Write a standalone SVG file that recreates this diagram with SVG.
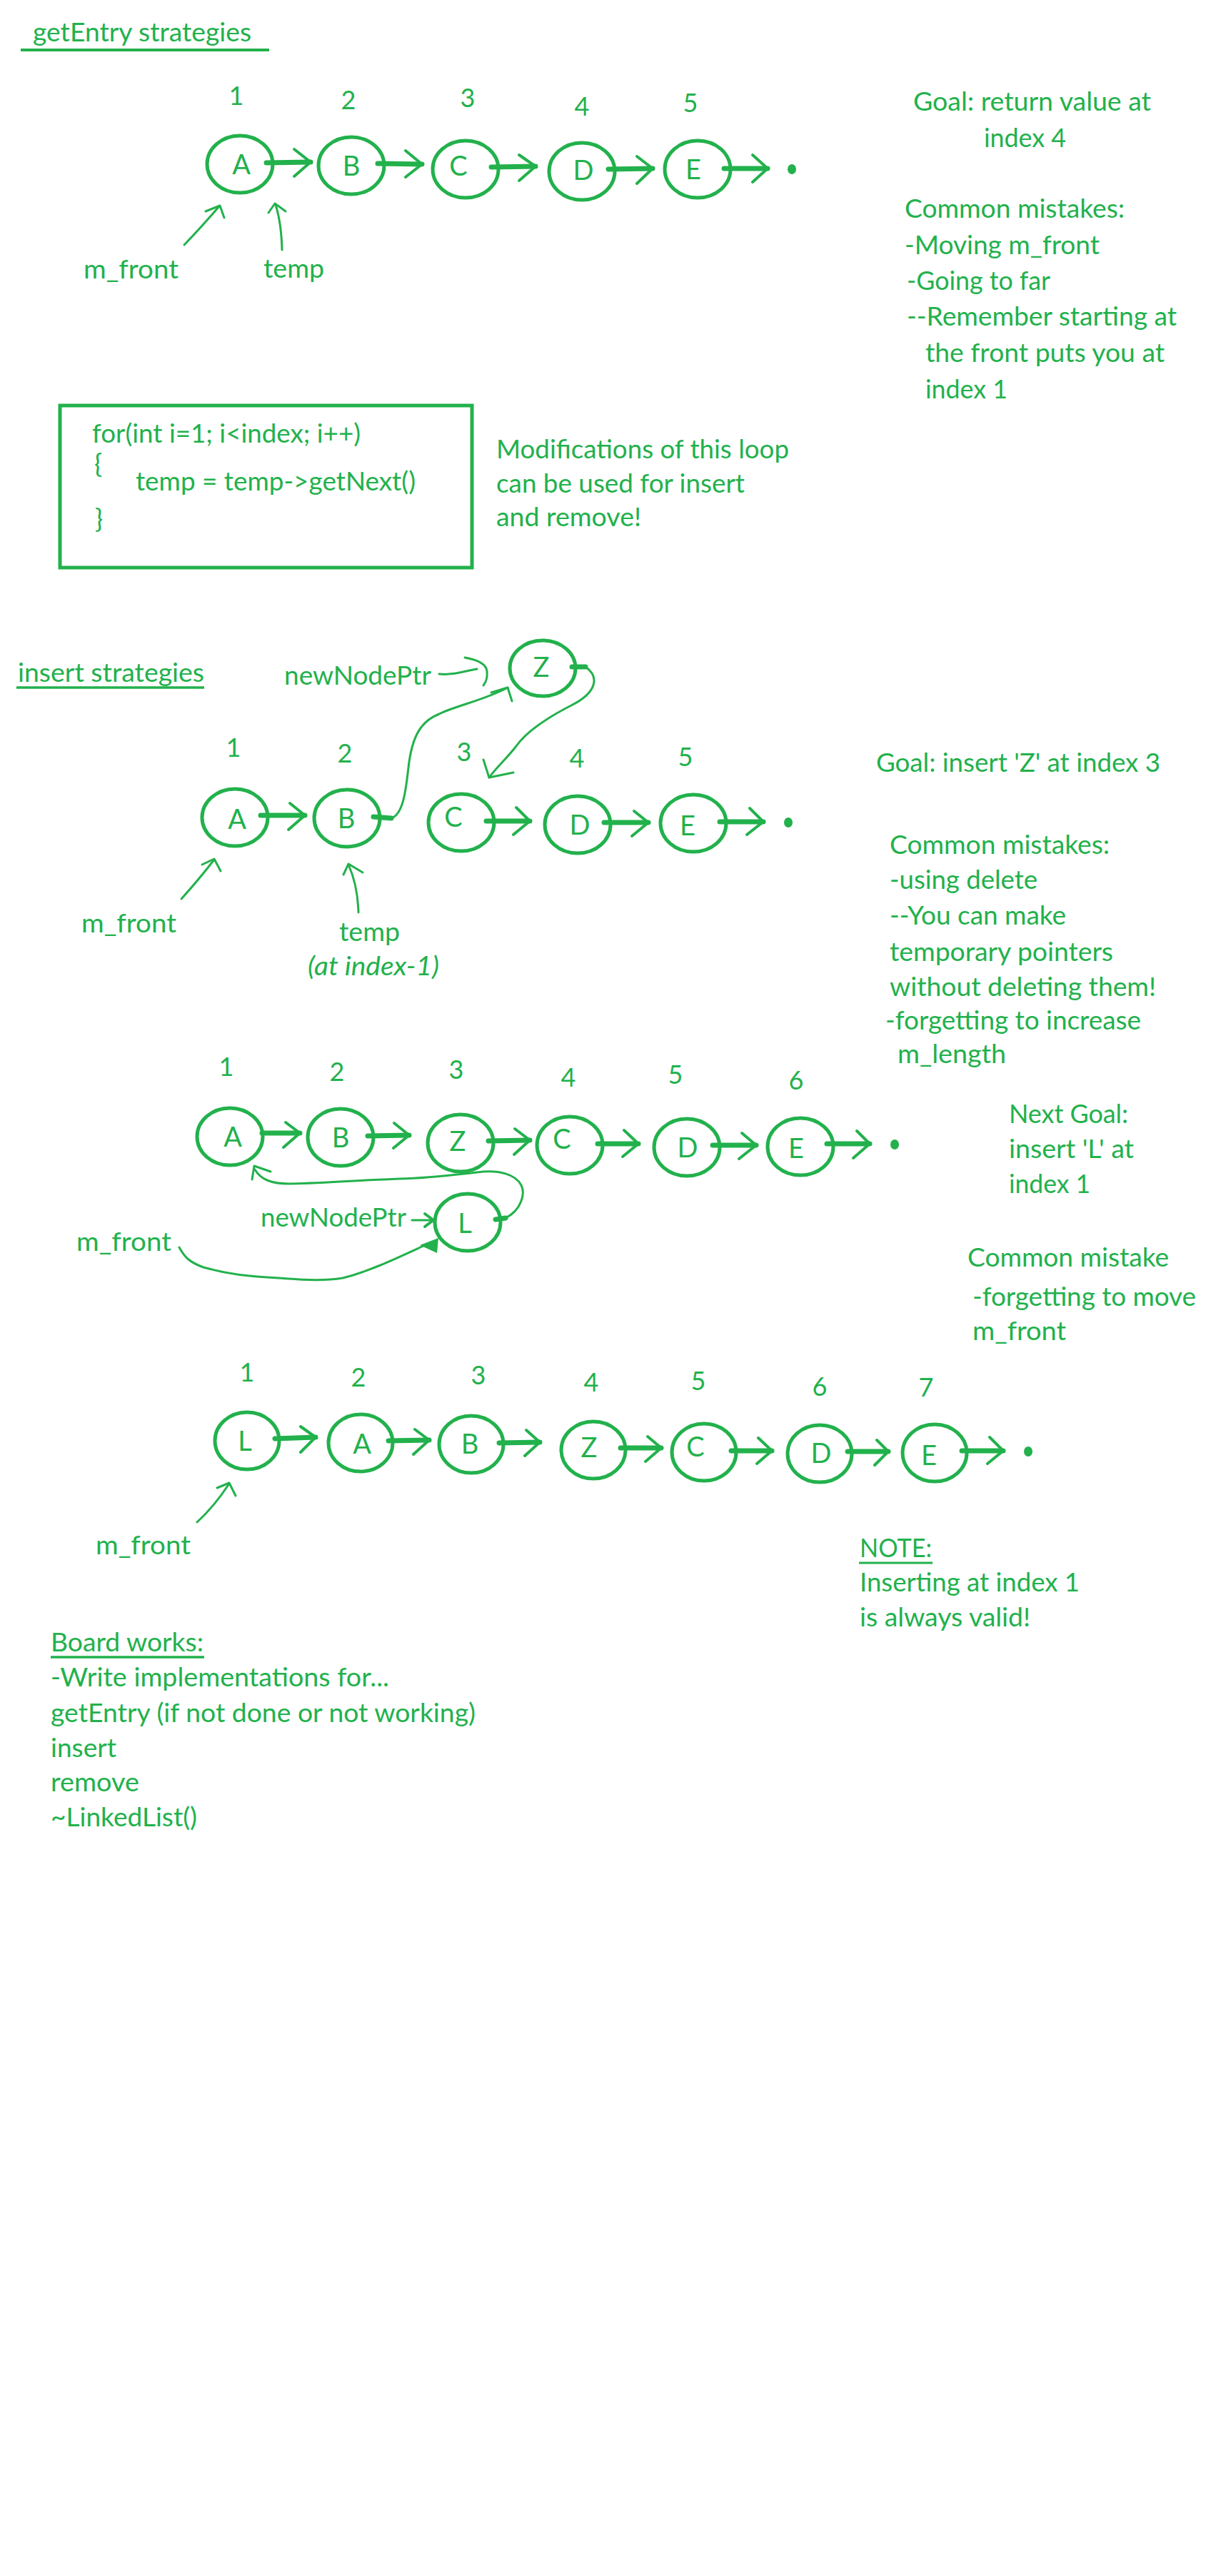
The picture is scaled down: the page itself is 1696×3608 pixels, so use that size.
<svg xmlns="http://www.w3.org/2000/svg" width="1696" height="3608" viewBox="0 0 1696 3608">
<style>
.bg{fill:#ffffff}
.n{fill:none;stroke:#22b14c;stroke-width:5}
.sh{fill:none;stroke:#22b14c;stroke-width:7;stroke-linecap:round}
.hd{fill:none;stroke:#22b14c;stroke-width:4;stroke-linecap:round;stroke-linejoin:round}
.pt{fill:none;stroke:#22b14c;stroke-width:3;stroke-linecap:round;stroke-linejoin:round}
.ul{stroke:#22b14c;stroke-width:4}
.dot{fill:#22b14c}
text{font-family:Lato,"Liberation Sans",sans-serif;fill:#22b14c;font-size:37px}
.lbl{font-size:38px;text-anchor:middle}
.num{font-size:36px;text-anchor:middle}
.it{font-style:italic}
</style>
<rect class="bg" x="0" y="0" width="1696" height="3608"/>

<!-- ===== Section 1: getEntry ===== -->
<g id="title-getentry">
<text x="46" y="58" textLength="306" lengthAdjust="spacingAndGlyphs">getEntry strategies</text>
<line class="ul" x1="29" y1="70" x2="377" y2="70"/>
</g>
<g id="s1-A"><ellipse class="n" cx="336" cy="230" rx="46" ry="40"/><text class="lbl" x="338" y="244">A</text><text class="num" x="331" y="147">1</text></g>
<g id="s1-B"><ellipse class="n" cx="492" cy="232" rx="46" ry="40"/><text class="lbl" x="492" y="246">B</text><text class="num" x="488" y="153">2</text></g>
<g id="s1-C"><ellipse class="n" cx="652" cy="237" rx="46" ry="40"/><text class="lbl" x="642" y="246">C</text><text class="num" x="655" y="150">3</text></g>
<g id="s1-D"><ellipse class="n" cx="815" cy="240" rx="46" ry="40"/><text class="lbl" x="817" y="252">D</text><text class="num" x="815" y="162">4</text></g>
<g id="s1-E"><ellipse class="n" cx="977" cy="237" rx="46" ry="40"/><text class="lbl" x="971" y="251">E</text><text class="num" x="967" y="157">5</text></g>
<g id="s1-null"><ellipse class="dot" cx="1109" cy="237" rx="6" ry="7"/></g>
<g id="s1-mfront"><text x="117" y="390" textLength="133" lengthAdjust="spacingAndGlyphs">m_front</text></g>
<g id="s1-temp"><text x="369" y="389" textLength="85" lengthAdjust="spacingAndGlyphs">temp</text></g>

<g id="loop-box">
<rect class="n" x="84" y="568" width="577" height="227"/>
<text x="129" y="620" textLength="376" lengthAdjust="spacingAndGlyphs">for(int i=1; i&lt;index; i++)</text>
<text x="132" y="663">{</text>
<text x="190" y="687" textLength="392" lengthAdjust="spacingAndGlyphs">temp = temp-&gt;getNext()</text>
<text x="133" y="740">}</text>
</g>
<g id="loop-note">
<text x="695" y="642" textLength="410" lengthAdjust="spacingAndGlyphs">Modifications of this loop</text>
<text x="695" y="690" textLength="348" lengthAdjust="spacingAndGlyphs">can be used for insert</text>
<text x="695" y="737" textLength="203" lengthAdjust="spacingAndGlyphs">and remove!</text>
</g>
<g id="s1-notes">
<text x="1279" y="155" textLength="333" lengthAdjust="spacingAndGlyphs">Goal: return value at</text>
<text x="1378" y="206" textLength="115" lengthAdjust="spacingAndGlyphs">index 4</text>
<text x="1267" y="305" textLength="308" lengthAdjust="spacingAndGlyphs">Common mistakes:</text>
<text x="1267" y="356" textLength="273" lengthAdjust="spacingAndGlyphs">-Moving m_front</text>
<text x="1270" y="406" textLength="201" lengthAdjust="spacingAndGlyphs">-Going to far</text>
<text x="1270" y="456" textLength="378" lengthAdjust="spacingAndGlyphs">--Remember starting at</text>
<text x="1296" y="507" textLength="335" lengthAdjust="spacingAndGlyphs">the front puts you at</text>
<text x="1296" y="558" textLength="115" lengthAdjust="spacingAndGlyphs">index 1</text>
</g>

<!-- ===== Section 2: insert Z ===== -->
<g id="title-insert">
<text x="25" y="955" textLength="261" lengthAdjust="spacingAndGlyphs">insert strategies</text>
<line class="ul" x1="23" y1="963" x2="286" y2="963" style="stroke-width:3.5"/>
</g>
<g id="s2-newNodePtr"><text x="398" y="959" textLength="206" lengthAdjust="spacingAndGlyphs">newNodePtr</text></g>
<g id="s2-Z"><ellipse class="n" cx="760" cy="936" rx="46" ry="39"/><text class="lbl" x="758" y="948">Z</text></g>
<g id="s2-A"><ellipse class="n" cx="329" cy="1145" rx="46" ry="40"/><text class="lbl" x="332" y="1161">A</text><text class="num" x="327" y="1060">1</text></g>
<g id="s2-B"><ellipse class="n" cx="486" cy="1146" rx="46" ry="40"/><text class="lbl" x="485" y="1160">B</text><text class="num" x="483" y="1068">2</text></g>
<g id="s2-C"><ellipse class="n" cx="646" cy="1152" rx="46" ry="40"/><text class="lbl" x="635" y="1158">C</text><text class="num" x="650" y="1066">3</text></g>
<g id="s2-D"><ellipse class="n" cx="809" cy="1155" rx="46" ry="40"/><text class="lbl" x="812" y="1169">D</text><text class="num" x="808" y="1075">4</text></g>
<g id="s2-E"><ellipse class="n" cx="971" cy="1153" rx="46" ry="40"/><text class="lbl" x="963" y="1170">E</text><text class="num" x="960" y="1073">5</text></g>
<g id="s2-null"><ellipse class="dot" cx="1104" cy="1152" rx="6" ry="7"/></g>
<g id="s2-mfront"><text x="114" y="1306" textLength="133" lengthAdjust="spacingAndGlyphs">m_front</text></g>
<g id="s2-temp">
<text x="475" y="1318" textLength="85" lengthAdjust="spacingAndGlyphs">temp</text>
<text class="it" x="431" y="1366" textLength="184" lengthAdjust="spacingAndGlyphs">(at index-1)</text>
</g>
<g id="s2-notes">
<text x="1227" y="1081" textLength="398" lengthAdjust="spacingAndGlyphs">Goal: insert 'Z' at index 3</text>
<text x="1246" y="1196" textLength="308" lengthAdjust="spacingAndGlyphs">Common mistakes:</text>
<text x="1246" y="1245" textLength="207" lengthAdjust="spacingAndGlyphs">-using delete</text>
<text x="1246" y="1295" textLength="247" lengthAdjust="spacingAndGlyphs">--You can make</text>
<text x="1246" y="1346" textLength="313" lengthAdjust="spacingAndGlyphs">temporary pointers</text>
<text x="1246" y="1395" textLength="373" lengthAdjust="spacingAndGlyphs">without deleting them!</text>
<text x="1240" y="1442" textLength="358" lengthAdjust="spacingAndGlyphs">-forgetting to increase</text>
<text x="1257" y="1489" textLength="152" lengthAdjust="spacingAndGlyphs">m_length</text>
</g>

<!-- ===== Section 3: insert L ===== -->
<g id="s3-A"><ellipse class="n" cx="322" cy="1592" rx="46" ry="40"/><text class="lbl" x="326" y="1606">A</text><text class="num" x="317" y="1507">1</text></g>
<g id="s3-B"><ellipse class="n" cx="477" cy="1593" rx="46" ry="40"/><text class="lbl" x="477" y="1607">B</text><text class="num" x="472" y="1514">2</text></g>
<g id="s3-Z"><ellipse class="n" cx="645" cy="1601" rx="46" ry="40"/><text class="lbl" x="641" y="1612">Z</text><text class="num" x="639" y="1511">3</text></g>
<g id="s3-C"><ellipse class="n" cx="798" cy="1604" rx="46" ry="40"/><text class="lbl" x="787" y="1609">C</text><text class="num" x="796" y="1522">4</text></g>
<g id="s3-D"><ellipse class="n" cx="962" cy="1607" rx="46" ry="40"/><text class="lbl" x="963" y="1621">D</text><text class="num" x="946" y="1518">5</text></g>
<g id="s3-E"><ellipse class="n" cx="1121" cy="1606" rx="46" ry="40"/><text class="lbl" x="1115" y="1622">E</text><text class="num" x="1115" y="1526">6</text></g>
<g id="s3-null"><ellipse class="dot" cx="1253" cy="1603" rx="6" ry="7"/></g>
<g id="s3-L"><ellipse class="n" cx="655" cy="1712" rx="46" ry="40"/><text class="lbl" x="651" y="1727">L</text></g>
<g id="s3-newNodePtr"><text x="365" y="1718" textLength="204" lengthAdjust="spacingAndGlyphs">newNodePtr</text></g>
<g id="s3-mfront"><text x="107" y="1752" textLength="133" lengthAdjust="spacingAndGlyphs">m_front</text></g>
<g id="s3-notes">
<text x="1413" y="1573" textLength="167" lengthAdjust="spacingAndGlyphs">Next Goal:</text>
<text x="1413" y="1622" textLength="175" lengthAdjust="spacingAndGlyphs">insert 'L' at</text>
<text x="1413" y="1671" textLength="114" lengthAdjust="spacingAndGlyphs">index 1</text>
<text x="1355" y="1774" textLength="282" lengthAdjust="spacingAndGlyphs">Common mistake</text>
<text x="1362" y="1829" textLength="313" lengthAdjust="spacingAndGlyphs">-forgetting to move</text>
<text x="1362" y="1877" textLength="131" lengthAdjust="spacingAndGlyphs">m_front</text>
</g>

<!-- ===== Section 4: result ===== -->
<g id="s4-L"><ellipse class="n" cx="346" cy="2018" rx="45" ry="40"/><text class="lbl" x="343" y="2032">L</text><text class="num" x="346" y="1935">1</text></g>
<g id="s4-A"><ellipse class="n" cx="505" cy="2021" rx="45" ry="40"/><text class="lbl" x="507" y="2036">A</text><text class="num" x="502" y="1942">2</text></g>
<g id="s4-B"><ellipse class="n" cx="660" cy="2023" rx="45" ry="40"/><text class="lbl" x="658" y="2036">B</text><text class="num" x="670" y="1939">3</text></g>
<g id="s4-Z"><ellipse class="n" cx="831" cy="2031" rx="45" ry="40"/><text class="lbl" x="825" y="2041">Z</text><text class="num" x="828" y="1949">4</text></g>
<g id="s4-C"><ellipse class="n" cx="986" cy="2034" rx="45" ry="40"/><text class="lbl" x="974" y="2040">C</text><text class="num" x="978" y="1947">5</text></g>
<g id="s4-D"><ellipse class="n" cx="1148" cy="2036" rx="45" ry="40"/><text class="lbl" x="1150" y="2049">D</text><text class="num" x="1148" y="1955">6</text></g>
<g id="s4-E"><ellipse class="n" cx="1309" cy="2035" rx="45" ry="40"/><text class="lbl" x="1301" y="2052">E</text><text class="num" x="1297" y="1956">7</text></g>
<g id="s4-null"><ellipse class="dot" cx="1440" cy="2033" rx="6" ry="7"/></g>
<g id="s4-mfront"><text x="134" y="2177" textLength="133" lengthAdjust="spacingAndGlyphs">m_front</text></g>
<g id="note">
<text x="1204" y="2181" textLength="101" lengthAdjust="spacingAndGlyphs">NOTE:</text>
<line class="ul" x1="1203" y1="2189" x2="1306" y2="2189" style="stroke-width:3"/>
<text x="1204" y="2229" textLength="308" lengthAdjust="spacingAndGlyphs">Inserting at index 1</text>
<text x="1204" y="2278" textLength="239" lengthAdjust="spacingAndGlyphs">is always valid!</text>
</g>
<g id="board-works">
<text x="71" y="2313" textLength="214" lengthAdjust="spacingAndGlyphs">Board works:</text>
<line class="ul" x1="71" y1="2321" x2="286" y2="2321" style="stroke-width:3.5"/>
<text x="71" y="2362" textLength="474" lengthAdjust="spacingAndGlyphs">-Write implementations for...</text>
<text x="71" y="2412" textLength="595" lengthAdjust="spacingAndGlyphs">getEntry (if not done or not working)</text>
<text x="71" y="2461" textLength="92" lengthAdjust="spacingAndGlyphs">insert</text>
<text x="71" y="2509" textLength="124" lengthAdjust="spacingAndGlyphs">remove</text>
<text x="71" y="2558" textLength="205" lengthAdjust="spacingAndGlyphs">~LinkedList()</text>
</g>

<!-- ===== Connectors ===== -->
<g id="connectors">
<!-- section 1 -->
<path class="sh" d="M373,228 L435,227"/><path class="hd" d="M412,209 L435,227 L412,247"/>
<path class="sh" d="M529,229 L591,230"/><path class="hd" d="M568,211 L591,230 L568,248"/>
<path class="sh" d="M688,234 L750,233"/><path class="hd" d="M727,217 L750,233 L727,253"/>
<path class="sh" d="M852,237 L914,236"/><path class="hd" d="M892,219 L914,236 L892,257"/>
<path class="sh" d="M1014,236 L1075,236"/><path class="hd" d="M1054,217 L1075,236 L1054,255"/>
<path class="pt" d="M258,343 Q282,318 307,289"/><path class="pt" d="M288,296 L308,288 L314,305"/>
<path class="pt" d="M395,350 Q394,312 386,287"/><path class="pt" d="M376,298 L385,285 L400,296"/>
<!-- section 2 -->
<path class="sh" d="M365,1142 L427,1142"/><path class="hd" d="M406,1125 L427,1142 L404,1162"/>
<path class="sh" d="M681,1150 L742,1150"/><path class="hd" d="M723,1131 L742,1150 L719,1169"/>
<path class="sh" d="M846,1152 L908,1152"/><path class="hd" d="M888,1136 L908,1152 L885,1171"/>
<path class="sh" d="M1008,1151 L1069,1151"/><path class="hd" d="M1050,1132 L1069,1151 L1046,1169"/>
<path class="sh" d="M523,1144 L548,1146"/>
<path class="pt" d="M548,1146 C566,1140 569,1100 572,1075 C577,1030 590,1010 615,1000 C640,988 680,980 711,963"/>
<path class="pt" d="M688,970 L711,963 L717,982"/>
<path class="sh" d="M801,934 L820,934"/>
<path class="pt" d="M820,934 C840,948 836,970 800,988 C765,1006 737,1025 723,1045 C710,1062 695,1075 685,1089"/>
<path class="pt" d="M677,1064 L685,1089 L719,1082"/>
<path class="pt" d="M615,944 C635,946 650,940 668,937"/>
<path class="pt" d="M651,921 C668,924 681,930 682,940 C683,950 681,955 677,960"/>
<path class="pt" d="M254,1259 Q280,1230 300,1204"/><path class="pt" d="M283,1211 L300,1203 L309,1220"/>
<path class="pt" d="M502,1278 Q501,1240 488,1211"/><path class="pt" d="M481,1225 L488,1210 L508,1222"/>
<!-- section 3 -->
<path class="sh" d="M367,1587 L420,1587"/><path class="hd" d="M400,1572 L420,1587 L397,1607"/>
<path class="sh" d="M515,1591 L573,1590"/><path class="hd" d="M552,1573 L573,1590 L551,1608"/>
<path class="sh" d="M684,1598 L742,1597"/><path class="hd" d="M721,1581 L742,1597 L720,1617"/>
<path class="sh" d="M837,1602 L894,1602"/><path class="hd" d="M874,1583 L894,1602 L872,1620"/>
<path class="sh" d="M998,1604 L1059,1604"/><path class="hd" d="M1039,1587 L1059,1604 L1035,1623"/>
<path class="sh" d="M1158,1602 L1218,1602"/><path class="hd" d="M1200,1584 L1218,1602 L1195,1622"/>
<path class="sh" d="M694,1708 L708,1706"/>
<path class="pt" d="M708,1706 C730,1695 736,1672 730,1660 C722,1645 700,1638 668,1642 C640,1645 600,1650 560,1651 C500,1653 440,1658 405,1658 C380,1658 365,1652 357,1638"/>
<path class="pt" d="M379,1641 L356,1633 L353,1652"/>
<path class="pt" d="M577,1709 L606,1709"/><path class="hd" d="M595,1700 L607,1709 L595,1718"/>
<path class="pt" d="M251,1747 C258,1760 265,1768 285,1775 C320,1785 350,1788 390,1790 C420,1792 450,1795 480,1790 C520,1780 560,1760 604,1740"/>
<path class="dot" d="M614,1734 L588,1744 L612,1755 Z"/>
<!-- section 4 -->
<path class="sh" d="M385,2015 L442,2013"/><path class="hd" d="M421,1998 L442,2013 L421,2034"/>
<path class="sh" d="M544,2018 L601,2017"/><path class="hd" d="M581,2002 L601,2017 L579,2037"/>
<path class="sh" d="M699,2021 L756,2020"/><path class="hd" d="M737,2003 L756,2020 L735,2039"/>
<path class="sh" d="M869,2028 L926,2028"/><path class="hd" d="M907,2012 L926,2028 L904,2047"/>
<path class="sh" d="M1024,2032 L1081,2032"/><path class="hd" d="M1062,2014 L1081,2032 L1060,2050"/>
<path class="sh" d="M1187,2033 L1244,2033"/><path class="hd" d="M1228,2017 L1244,2033 L1225,2052"/>
<path class="sh" d="M1347,2032 L1405,2032"/><path class="hd" d="M1386,2013 L1405,2032 L1383,2050"/>
<path class="pt" d="M276,2132 Q300,2110 321,2078"/><path class="pt" d="M304,2084 L321,2077 L330,2095"/>
</g>
</svg>
